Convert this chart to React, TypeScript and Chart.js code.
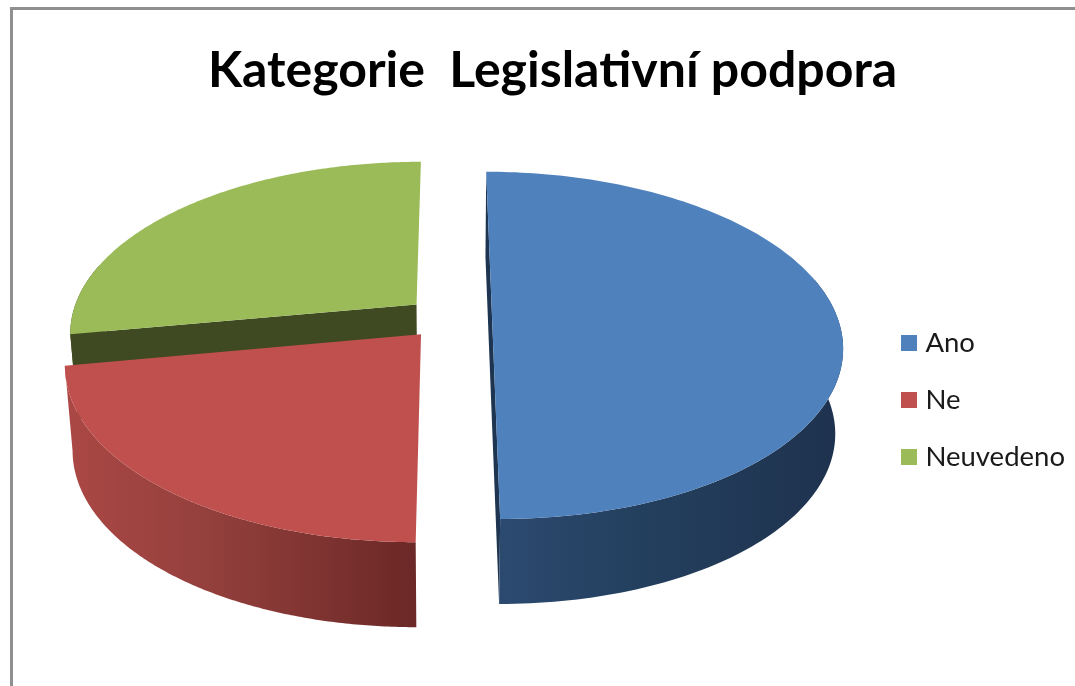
import React, { useEffect, useRef } from "react";
import { Chart, registerables } from "chart.js";

Chart.register(...registerables);

const TITLE = "Kategorie  Legislativní podpora";
const categories = ["Ano", "Ne", "Neuvedeno"];
const values = [50, 22.2, 27.8];
const topColors = ["#4f81bd", "#c0504d", "#9bbb59"];
const wallStops = [
  ["#2c4a70", "#24405f", "#1e324e"],
  ["#ab4845", "#94403d", "#6b2826"],
  ["#3f4a22", "#3f4a22", "#3f4a22"],
];

const TILT_RATIO = 0.49;
const PERSPECTIVE = 0.158;
const DEPTH = 85;
const BOTTOM_SCALE = 0.98;
const VIEW_SHIFT_X = -4.5;

const swatch = (color: string) => {
  const c = document.createElement("canvas");
  c.width = 16;
  c.height = 16;
  const g = c.getContext("2d") as CanvasRenderingContext2D;
  g.fillStyle = color;
  g.fillRect(0, 0, 16, 16);
  return c;
};

const pie3d = {
  id: "pie3d",
  beforeDatasetsDraw(chart: any) {
    const ctx = chart.ctx;
    const arcs = chart.getDatasetMeta(0).data;
    const area = chart.chartArea;
    const cx = (area.left + area.right) / 2;
    const cy = (area.top + area.bottom) / 2;

    const project = (arc: any, off: number, angle: number, radius: number, down: boolean) => {
      const mid = (arc.startAngle + arc.endAngle) / 2;
      const dx = arc.x - cx + Math.cos(mid) * off + Math.cos(angle) * radius;
      const dy = arc.y - cy + Math.sin(mid) * off + Math.sin(angle) * radius;
      const R = arc.outerRadius;
      const s = 1 / (1 - (PERSPECTIVE * dy) / R);
      const px = dx * s;
      const py = dy * TILT_RATIO * s;
      return down
        ? [cx + VIEW_SHIFT_X + px * BOTTOM_SCALE, cy + py + DEPTH]
        : [cx + VIEW_SHIFT_X + px, cy + py];
    };

    const fillPoly = (pts: number[][], style: any) => {
      ctx.beginPath();
      pts.forEach((p, i) => (i ? ctx.lineTo(p[0], p[1]) : ctx.moveTo(p[0], p[1])));
      ctx.closePath();
      ctx.fillStyle = style;
      ctx.fill();
    };

    ctx.save();
    for (let i = arcs.length - 1; i >= 0; i--) {
      const arc = arcs[i];
      const off = arc.options.offset;
      const R = arc.outerRadius;
      const steps = 160;
      const rim: number[][] = [];
      const rimLow: number[][] = [];
      const front: number[][] = [];
      const frontLow: number[][] = [];
      for (let k = 0; k <= steps; k++) {
        const a = arc.startAngle + ((arc.endAngle - arc.startAngle) * k) / steps;
        const top = project(arc, off, a, R, false);
        const low = project(arc, off, a, R, true);
        rim.push(top);
        rimLow.push(low);
        if (Math.sin(a) >= -0.25) {
          front.push(top);
          frontLow.push(low);
        }
      }
      const apex = project(arc, off, 0, 0, false);
      const apexLow = project(arc, off, 0, 0, true);

      const minX = Math.min(...rim.map((p) => p[0]));
      const grad = ctx.createLinearGradient(
        i === 0 ? 498 : minX, 0, i === 0 ? 840 : 417, 0,
      );
      grad.addColorStop(0, wallStops[i][0]);
      grad.addColorStop(0.4, wallStops[i][1]);
      grad.addColorStop(1, wallStops[i][2]);

      // cut faces that can be seen from the viewpoint
      if (i === 0) {
        fillPoly([rim[0], rimLow[0], rimLow[steps], rim[steps]], "#1e3552");
      } else if (i === 2) {
        fillPoly([apex, rim[0], rimLow[0], apexLow], wallStops[2][2]);
      }
      // outer wall, front part only
      fillPoly([...front, ...frontLow.slice().reverse()], grad);
      // top face
      fillPoly([apex, ...rim], topColors[i]);
    }
    ctx.restore();
    return false;
  },
};

export default function App() {
  const ref = useRef<HTMLCanvasElement | null>(null);

  useEffect(() => {
    document.body.style.margin = "0";
    document.body.style.background = "#ffffff";
    const defaultLabels = (Chart as any).overrides.doughnut.plugins.legend.labels.generateLabels;
    const chart = new Chart(ref.current as HTMLCanvasElement, {
      type: "pie",
      data: {
        labels: categories,
        datasets: [
          {
            data: values,
            backgroundColor: topColors,
            borderWidth: 0,
            offset: 43,
            radius: 345.5,
          } as any,
        ],
      },
      options: {
        animation: false,
        responsive: false,
        rotation: 0,
        layout: { padding: { left: 30, right: 0, top: 0, bottom: 186 } },
        plugins: {
          tooltip: { enabled: false },
          title: {
            display: true,
            text: TITLE,
            color: "#000000",
            font: { family: "Lato", size: 50, weight: "bold" },
            padding: { top: 41, bottom: 34.9 },
          },
          legend: {
            position: "right",
            align: "end",
            labels: {
              usePointStyle: true,
              pointStyleWidth: 5,
              boxHeight: 16,
              padding: 29.5,
              color: "#1a1a1a",
              font: { family: "Lato", size: 27.5 },
              generateLabels: (c: any) =>
                defaultLabels(c).map((item: any, i: number) => ({
                  ...item,
                  pointStyle: swatch(topColors[i]),
                })),
            },
          },
        },
      },
      plugins: [pie3d],
    } as any);
    return () => chart.destroy();
  }, []);

  return (
    <div style={{ position: "relative", width: 1075, height: 686, overflow: "hidden", background: "#fff" }}>
      <canvas ref={ref} width={1075} height={686} style={{ display: "block" }} />
      <div
        style={{
          position: "absolute",
          left: 10,
          top: 7,
          right: 0,
          bottom: 0,
          borderLeft: "3px solid #8f8f8f",
          borderTop: "3px solid #8f8f8f",
          pointerEvents: "none",
        }}
      />
    </div>
  );
}
